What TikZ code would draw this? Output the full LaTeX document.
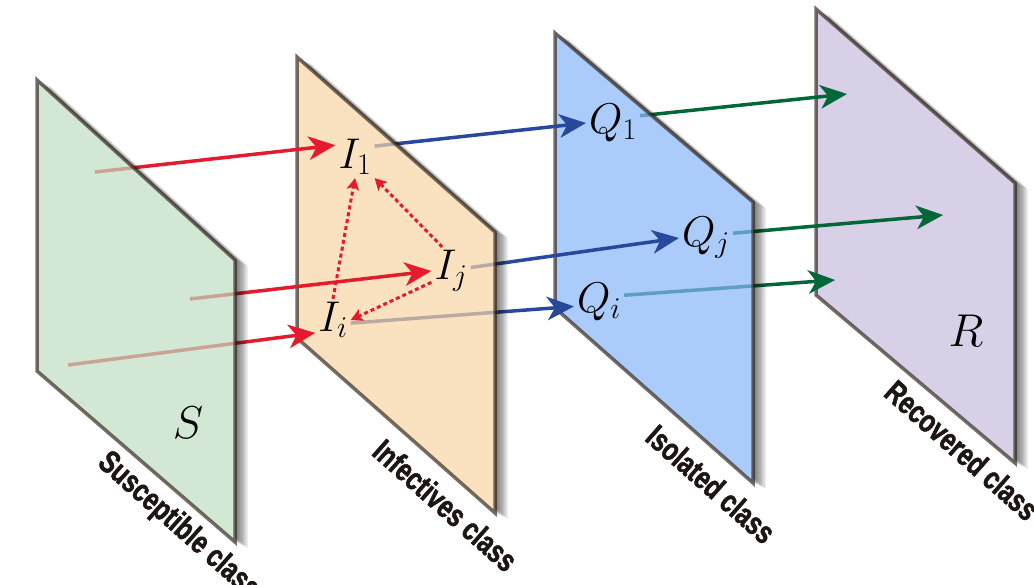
\RequirePackage{fix-cm}
\documentclass[tikz,border=0pt]{standalone}
\usepackage{fontspec}
\newfontfamily\classfont{Liberation Sans}[FakeStretch=0.76, BoldFeatures={FakeBold=1.6}]
\usetikzlibrary{arrows.meta,calc}
\definecolor{susfill}{HTML}{BFDEC3}
\definecolor{inffill}{HTML}{F8D6A5}
\definecolor{isofill}{HTML}{88B5F8}
\definecolor{recfill}{HTML}{C7BCDB}
\definecolor{planeedge}{HTML}{33281F}
\definecolor{sirred}{HTML}{E31B2D}
\definecolor{sirblue}{HTML}{28489E}
\definecolor{sirgreen}{HTML}{006838}
\definecolor{sirink}{HTML}{1E1614}
\pgfdeclarelayer{planeR}
\pgfdeclarelayer{flowQR}
\pgfdeclarelayer{planeQ}
\pgfdeclarelayer{flowIQ}
\pgfdeclarelayer{planeI}
\pgfdeclarelayer{flowSI}
\pgfdeclarelayer{planeS}
\pgfsetlayers{planeR,flowQR,planeQ,flowIQ,planeI,flowSI,planeS,main}
\tikzset{
  plane/.style={draw=planeedge, line width=3.5pt, fill opacity=0.7, draw opacity=0.68},
  planeshadow/.style={fill=black, opacity=0.07},
  lbl/.style={font=\fontsize{43}{45}\selectfont, inner sep=3pt},
  biglbl/.style={font=\fontsize{46}{48}\selectfont, inner sep=3pt},
  classlbl/.style={font=\classfont\bfseries\fontsize{32}{34}\selectfont, text=sirink, rotate=-41.5, anchor=east, inner sep=0pt},
  flow/.style={-{Stealth[length=27pt, width=24pt, inset=8pt, line width=0pt]}, line width=3.5pt},
  infarr/.style={flow, draw=sirred},
  isoarr/.style={flow, draw=sirblue},
  recarr/.style={flow, draw=sirgreen},
  contact/.style={-{Stealth[length=12pt, width=13pt, inset=3pt, line width=0pt]}, line width=3pt, draw=sirred, dash pattern=on 4pt off 3pt},
}

\begin{document}
\begin{tikzpicture}[x=1pt,y=-1pt]
  \useasboundingbox (0,0) rectangle (1034,585);
  % four class planes, back to front: R, Q, I, S
  \coordinate (S-tl) at (37,80);   \coordinate (S-tr) at (235,260);  \coordinate (S-br) at (235,542);  \coordinate (S-bl) at (37,371);
  \coordinate (I-tl) at (297,57);  \coordinate (I-tr) at (495,232);  \coordinate (I-br) at (495,513);  \coordinate (I-bl) at (297,338);
  \coordinate (Q-tl) at (555,33);  \coordinate (Q-tr) at (753,202);  \coordinate (Q-br) at (753,483);  \coordinate (Q-bl) at (555,308);
  \coordinate (R-tl) at (816,9);   \coordinate (R-tr) at (1015,183); \coordinate (R-br) at (1015,463); \coordinate (R-bl) at (816,295);
  \foreach \p/\c in {S/susfill, I/inffill, Q/isofill, R/recfill} {
    \begin{pgfonlayer}{plane\p}
      \begin{scope}
        \clip (0,0) -- (0,585) -- (1034,585) -- (1034,0) -- cycle
              (\p-tl) -- (\p-tr) -- (\p-br) -- (\p-bl) -- cycle;
        \foreach \k in {1,...,10}
          \fill[planeshadow, transform canvas={xshift=1.3pt*\k, yshift=-0.6pt*\k}] (\p-tl) -- (\p-tr) -- (\p-br) -- (\p-bl) -- cycle;
      \end{scope}
      \draw[plane, fill=\c] (\p-tl) -- (\p-tr) -- (\p-br) -- (\p-bl) -- cycle;
    \end{pgfonlayer}
  }

  \node[biglbl] (S) at (188,423) {$S$};
  \node[lbl] (I1) at (355,157) {$I_1$};
  \node[lbl] (Ij) at (451,271) {$I_j$};
  \node[lbl] (Ii) at (333,320) {$I_i$};
  \node[lbl] (Q1) at (613,123) {$Q_1$};
  \node[lbl] (Qj) at (706,238) {$Q_j$};
  \node[lbl] (Qi) at (599,302) {$Q_i$};
  \node[biglbl] (R) at (966,331) {$R$};

  \node[classlbl] (S-lab) at (255,594) {Susceptible class};
  \node[classlbl] (I-lab) at (513,565) {Infectives class};
  \node[classlbl] (Q-lab) at (771,537) {Isolated class};
  \node[classlbl] (R-lab) at (1034,514) {Recovered class};

  \coordinate (s1) at (95,172);  \coordinate (sj) at (190,299);  \coordinate (si) at (68,365);
  \coordinate (r1) at (847,94);  \coordinate (rj) at (943,215);  \coordinate (ri) at (835,280);

  \begin{pgfonlayer}{flowQR}
    \draw[recarr] (Q1.15) -- (r1);
    \draw[recarr] (Qj.10) -- (rj);
    \draw[recarr] (Qi.15) -- (ri);
  \end{pgfonlayer}
  \begin{pgfonlayer}{flowIQ}
    \draw[isoarr] (I1.29) -- (Q1.west);
    \draw[isoarr] (Ij.10) -- (Qj.west);
    \draw[isoarr] (Ii.-10) -- (Qi.190);
  \end{pgfonlayer}
  \begin{pgfonlayer}{flowSI}
    \draw[infarr] (s1) -- (I1.149);
    \draw[infarr] (sj) -- (Ij.west);
    \draw[infarr] (si) -- (Ii.216);
    % contacts inside the infectives class
    \draw[contact] (Ii.north) -- (I1.south);
    \draw[contact] (Ij.110) -- (I1.south east);
    \draw[contact] (Ij.210) -- (Ii.east);
  \end{pgfonlayer}
\end{tikzpicture}
\end{document}
